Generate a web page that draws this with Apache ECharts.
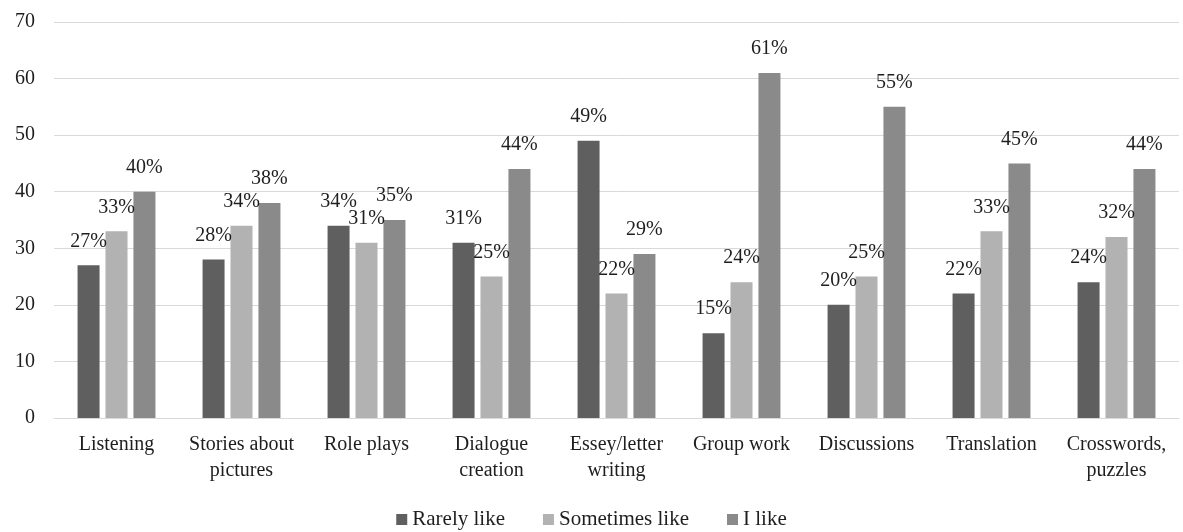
<!DOCTYPE html>
<html>
<head>
<meta charset="utf-8">
<script src="https://cdn.jsdelivr.net/npm/echarts@6/dist/echarts.min.js"></script>
<style>
  html, body { margin: 0; padding: 0; background: #fff; }
  #main { width: 1183px; height: 532px; }
</style>
</head>
<body>
<div id="main"></div>
<script>
const categories = ['Listening', 'Stories about\npictures', 'Role plays', 'Dialogue\ncreation',
  'Essey/letter\nwriting', 'Group work', 'Discussions', 'Translation', 'Crosswords,\npuzzles'];
const rarelyLike = [27, 28, 34, 31, 49, 15, 20, 22, 24];
const sometimesLike = [33, 34, 31, 25, 22, 24, 25, 33, 32];
const iLike = [40, 38, 35, 44, 29, 61, 55, 45, 44];
const yTicks = { min: 0, max: 70, interval: 10 };

const font = '"Liberation Serif", "DejaVu Serif", serif';
const ink = '#1e1e1e';

function bar(name, data, color) {
  return {
    name: name,
    type: 'bar',
    data: data,
    barWidth: 22,
    barGap: '27%',
    itemStyle: { color: color },
    label: {
      show: true,
      position: 'top',
      distance: 14,
      formatter: '{c}%',
      fontFamily: font,
      fontSize: 20,
      color: ink
    }
  };
}

let chart = echarts.init(document.getElementById('main'));
chart.setOption({
  animation: false,
  textStyle: { fontFamily: font },
  grid: { left: 54, right: 4, top: 22, bottom: 114 },
  legend: {
    bottom: -3,
    left: 'center',
    itemWidth: 11,
    itemHeight: 11,
    itemGap: 38,
    icon: 'rect',
    textStyle: { fontFamily: font, fontSize: 21, color: ink },
    data: ['Rarely like', 'Sometimes like', 'I like']
  },
  xAxis: {
    type: 'category',
    data: categories,
    axisLine: { lineStyle: { color: '#d9d9d9', width: 1 } },
    axisTick: { show: false },
    axisLabel: {
      interval: 0,
      margin: 14,
      fontFamily: font,
      fontSize: 20,
      lineHeight: 26,
      color: ink
    }
  },
  yAxis: {
    type: 'value',
    min: yTicks.min,
    max: yTicks.max,
    interval: yTicks.interval,
    axisLine: { show: false },
    axisTick: { show: false },
    splitLine: { lineStyle: { color: '#d9d9d9', width: 1 } },
    axisLabel: {
      margin: 19,
      fontFamily: font,
      fontSize: 20,
      color: ink
    }
  },
  series: [
    bar('Rarely like', rarelyLike, '#5f5f5f'),
    bar('Sometimes like', sometimesLike, '#b2b2b2'),
    bar('I like', iLike, '#8a8a8a')
  ]
});
</script>
</body>
</html>
